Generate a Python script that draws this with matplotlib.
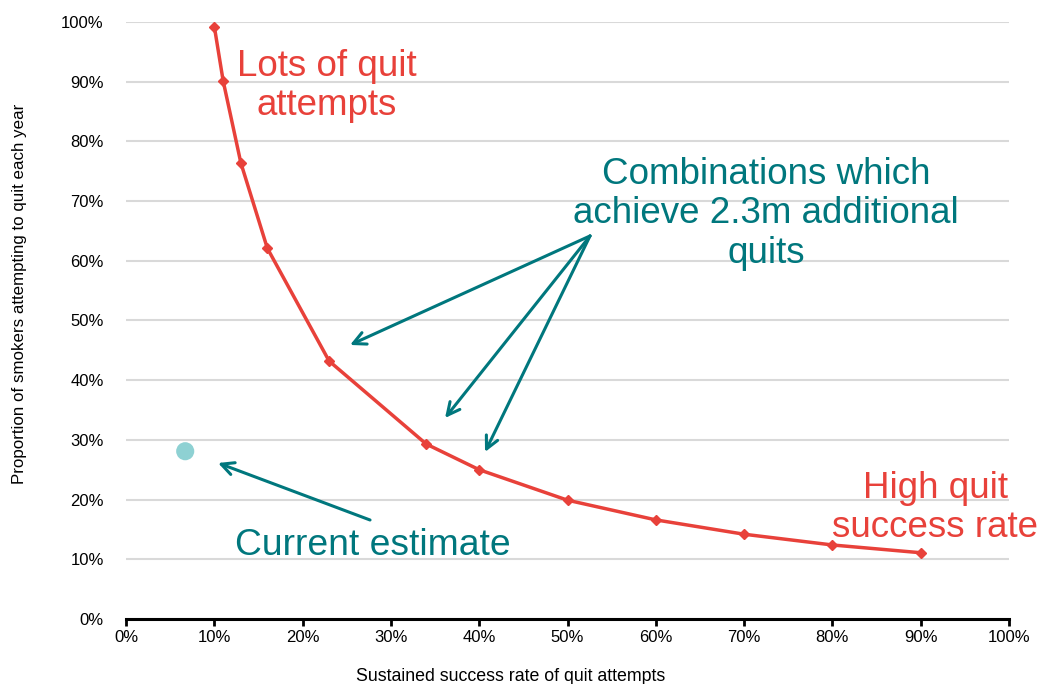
import matplotlib
matplotlib.use("Agg")
import matplotlib.pyplot as plt
from matplotlib.ticker import MultipleLocator, FuncFormatter

plt.rcParams['font.family'] = ['Liberation Sans', 'DejaVu Sans']

success_rate = [10, 11, 13, 16, 23, 34, 40, 50, 60, 70, 80, 90]
attempt_rate = [99.2, 90.1, 76.4, 62.1, 43.2, 29.3, 25.0, 19.9, 16.6, 14.2, 12.4, 11.1]
current_x = [6.7]
current_y = [28.1]

RED = '#E8413A'
TEAL = '#00777D'
DOT = '#8ED1D3'

fig = plt.figure(figsize=(10.4, 6.84), dpi=100)
ax = fig.add_axes([0.1212, 0.095, 0.849, 0.873])

ax.set_xlim(0, 100)
ax.set_ylim(0, 100)
ax.yaxis.set_major_locator(MultipleLocator(10))
ax.xaxis.set_major_locator(MultipleLocator(10))
pct = FuncFormatter(lambda v, p: f"{v:.0f}%")
ax.xaxis.set_major_formatter(pct)
ax.yaxis.set_major_formatter(pct)

ax.grid(axis='y', color='#D9D9D9', linewidth=1.5, zorder=0)
ax.set_axisbelow(True)
for s in ['top', 'right', 'left']:
    ax.spines[s].set_visible(False)
ax.spines['bottom'].set_linewidth(2.2)
ax.spines['bottom'].set_color('black')
ax.tick_params(axis='x', length=5, width=2, direction='out', labelsize=12, pad=3, color='black')
ax.tick_params(axis='y', length=0, labelsize=12, pad=16)

ax.plot(success_rate, attempt_rate, color=RED, linewidth=2.5, marker='D',
        markersize=5.5, zorder=3)
ax.scatter(current_x, current_y, s=170, color=DOT, zorder=3, edgecolors='none')

ax.set_xlabel('Sustained success rate of quit attempts', fontsize=12.8)
ax.xaxis.set_label_coords(0.435, -0.0825, transform=ax.transAxes)
ax.xaxis.label.set_va('top')
ax.set_ylabel('Proportion of smokers attempting to quit each year', fontsize=12.2)
ax.yaxis.set_label_coords(-0.112, 0.544)

def px(x, y):
    # pixel coordinates -> data
    return ((x - 126) / 8.83, (619 - y) / 5.97)

ax.text(*px(327, 86), 'Lots of quit\nattempts', color=RED, fontsize=26.5,
        ha='center', va='center', linespacing=1.17)
ax.text(*px(766, 214), 'Combinations which\nachieve 2.3m additional\nquits', color=TEAL,
        fontsize=26.5, ha='center', va='center', linespacing=1.17)
ax.text(*px(935, 508), 'High quit\nsuccess rate', color=RED, fontsize=26.5,
        ha='center', va='center', linespacing=1.17)
ax.text(*px(373, 545), 'Current estimate', color=TEAL, fontsize=26.8,
        ha='center', va='center')

arrow_kw = dict(arrowstyle='->,head_length=0.9,head_width=0.45', color=TEAL, lw=2.2,
                shrinkA=0, shrinkB=0)
src = px(590, 236)
for tgt in [(350, 345), (445, 418), (485, 452)]:
    ax.annotate('', xy=px(*tgt), xytext=src, arrowprops=arrow_kw)
ax.annotate('', xy=px(218, 463), xytext=px(370, 520), arrowprops=arrow_kw)

fig.savefig('out.png', dpi=100)
